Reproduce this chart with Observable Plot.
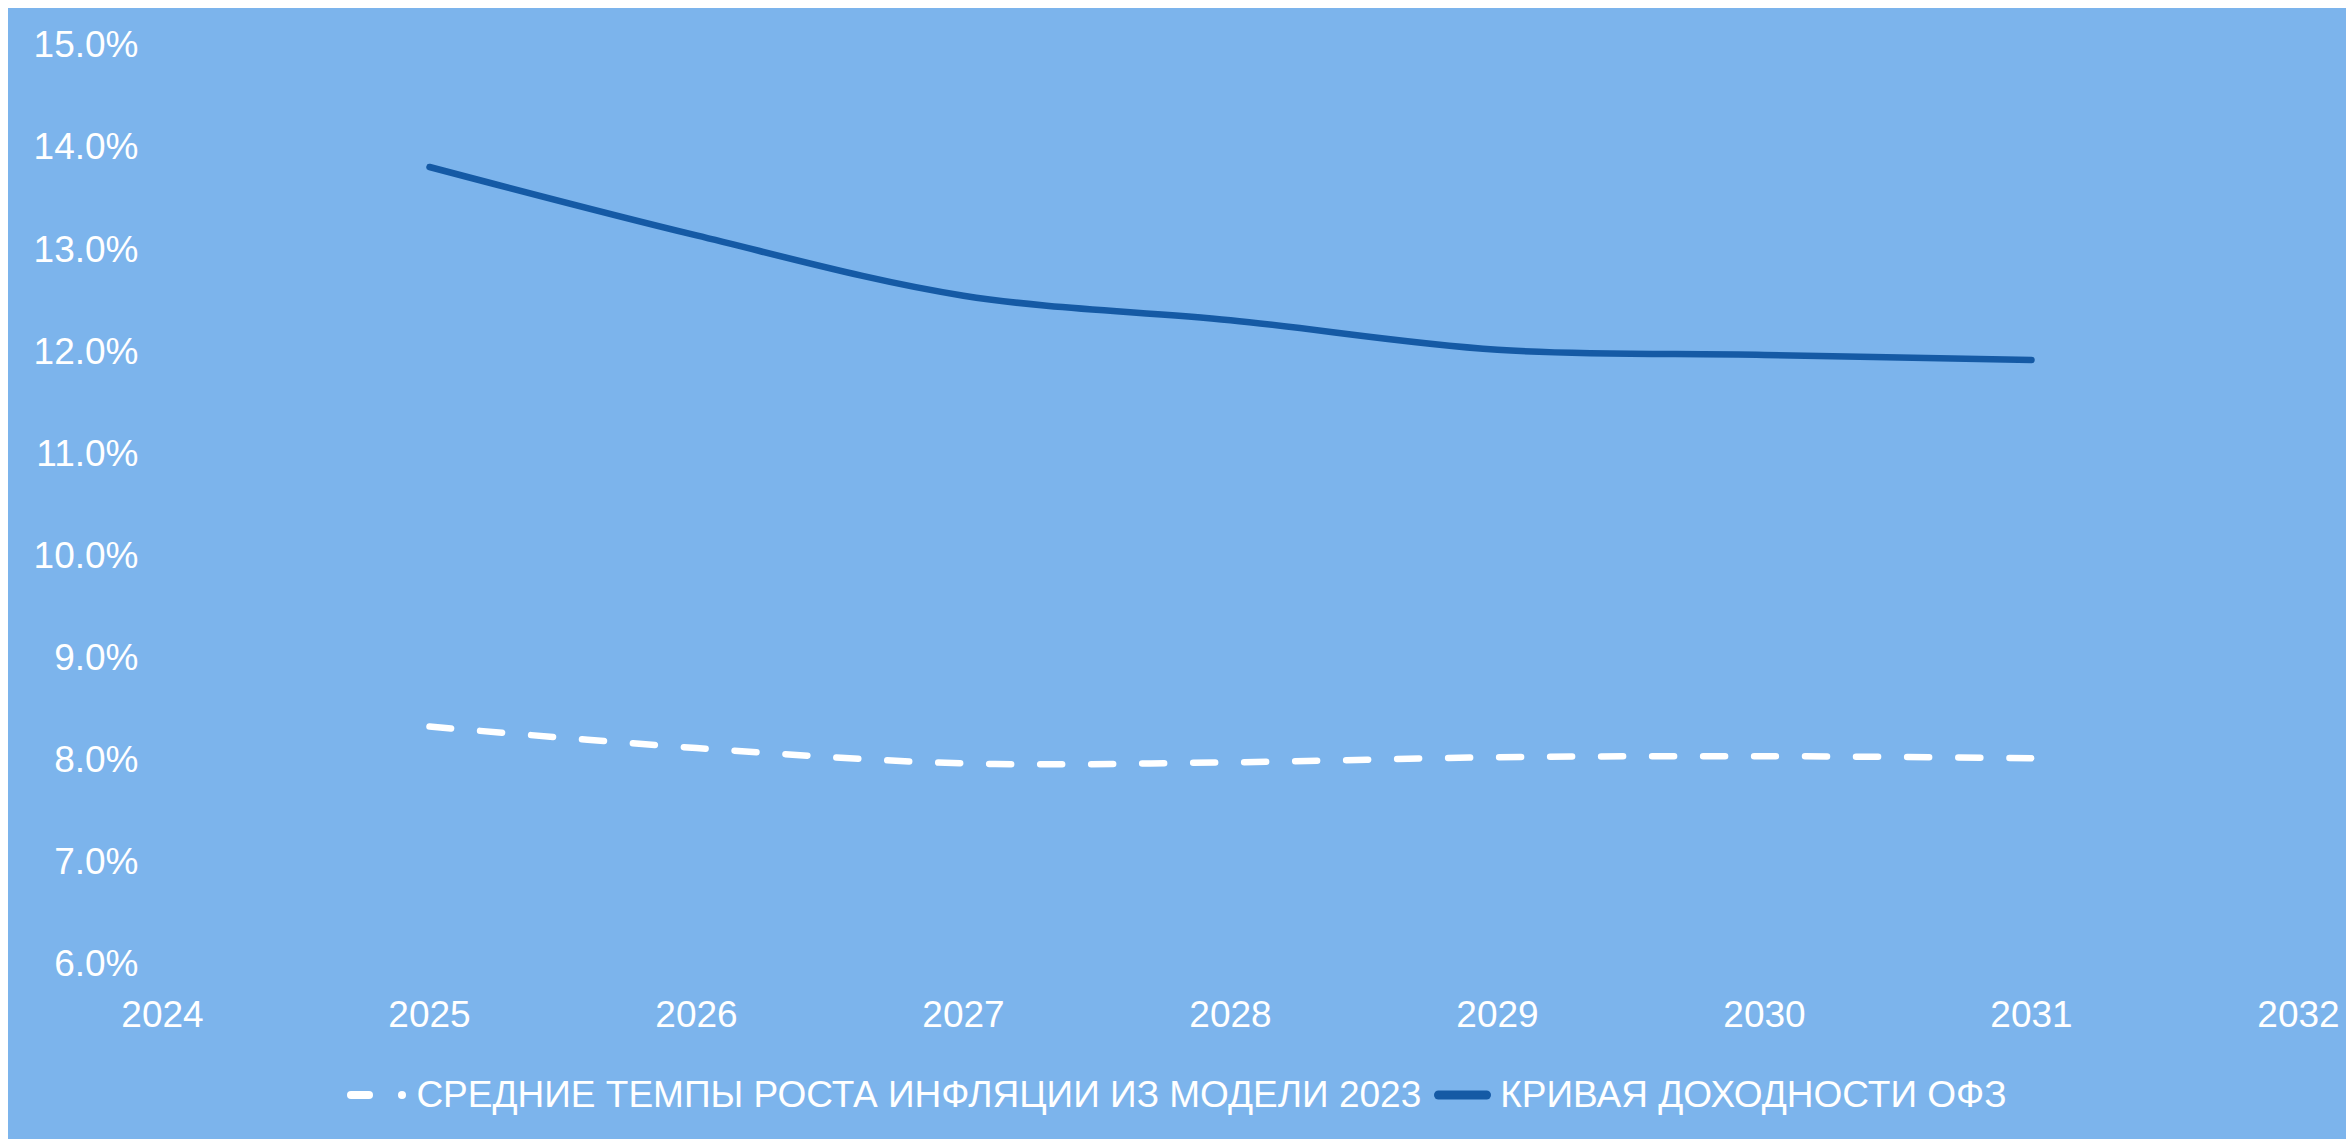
<!DOCTYPE html>
<html>
<head>
<meta charset="utf-8">
<script src="https://cdn.jsdelivr.net/npm/d3@7"></script>
<script src="https://cdn.jsdelivr.net/npm/@observablehq/plot@0.6"></script>
<style>
  html, body { margin: 0; padding: 0; background: #ffffff; }
  body { padding: 8px 0 0 8px; }
  #panel {
    width: 2338px; height: 1131px; background: #7CB4EC;
    font-family: "Liberation Sans", Arial, sans-serif; color: #ffffff;
    overflow: hidden;
  }
  #legend {
    display: flex; justify-content: center; align-items: center;
    margin-top: 40px; height: 42px; font-size: 37px; line-height: 42px;
    white-space: nowrap;
  }
  #legend svg { display: block; }
</style>
</head>
<body>
<div id="panel">
  <div id="chart"></div>
  <div id="legend"></div>
</div>
<script>
// ---- data ----
const years = [2025, 2026, 2027, 2028, 2029, 2030, 2031];
const inflationModel = [8.33, 8.12, 7.97, 7.98, 8.03, 8.04, 8.02];
const ofzYieldCurve = [13.81, 13.14, 12.55, 12.31, 12.02, 11.97, 11.92];
const seriesNames = [
  "СРЕДНИЕ ТЕМПЫ РОСТА ИНФЛЯЦИИ ИЗ МОДЕЛИ 2023",
  "КРИВАЯ ДОХОДНОСТИ ОФЗ"
];
const xTicks = [2024, 2025, 2026, 2027, 2028, 2029, 2030, 2031, 2032];
const yTicks = [6, 7, 8, 9, 10, 11, 12, 13, 14, 15];

const colors = { inflation: "#ffffff", ofz: "#155AA5" };

const inflationData = years.map((y, i) => ({ year: y, value: inflationModel[i] }));
const ofzData = years.map((y, i) => ({ year: y, value: ofzYieldCurve[i] }));

const fontFamily = '"Liberation Sans", Arial, sans-serif';

const chart = Plot.plot({
  width: 2338,
  height: 1026,
  marginLeft: 154,
  marginRight: 48,
  marginTop: 37,
  marginBottom: 70,
  style: { background: "transparent", color: "#ffffff", fontFamily, fontSize: "37px" },
  x: { domain: [2024, 2032], label: null },
  y: { domain: [6, 15], label: null },
  marks: [
    Plot.axisX({ ticks: xTicks, tickFormat: d => String(d), tickSize: 0, tickPadding: 36,
                 fontSize: 37, fill: "#ffffff", label: null }),
    Plot.axisY({ ticks: yTicks, tickFormat: d => d.toFixed(1) + "%", tickSize: 0, tickPadding: 24,
                 fontSize: 37, fill: "#ffffff", label: null }),
    Plot.line(inflationData, {
      x: "year", y: "value", curve: "catmull-rom",
      stroke: colors.inflation, strokeWidth: 6.5, strokeLinecap: "round",
      strokeDasharray: "22 29"
    }),
    Plot.line(ofzData, {
      x: "year", y: "value", curve: "catmull-rom",
      stroke: colors.ofz, strokeWidth: 6.5, strokeLinecap: "round"
    })
  ]
});
document.getElementById("chart").appendChild(chart);

// ---- legend ----
const legend = d3.select("#legend");
// dashed swatch
const s1 = legend.append("svg").attr("width", 66).attr("height", 20);
s1.append("line").attr("x1", 4).attr("x2", 22).attr("y1", 10).attr("y2", 10)
  .attr("stroke", colors.inflation).attr("stroke-width", 8).attr("stroke-linecap", "round");
s1.append("circle").attr("cx", 55).attr("cy", 10).attr("r", 4).attr("fill", colors.inflation);
legend.append("span").style("margin-left", "3px").style("margin-right", "13px").text(seriesNames[0]);
// solid swatch
const s2 = legend.append("svg").attr("width", 57).attr("height", 20);
s2.append("line").attr("x1", 4.5).attr("x2", 52.5).attr("y1", 10).attr("y2", 10)
  .attr("stroke", colors.ofz).attr("stroke-width", 9).attr("stroke-linecap", "round");
legend.append("span").style("margin-left", "9px").text(seriesNames[1]);
</script>
</body>
</html>
